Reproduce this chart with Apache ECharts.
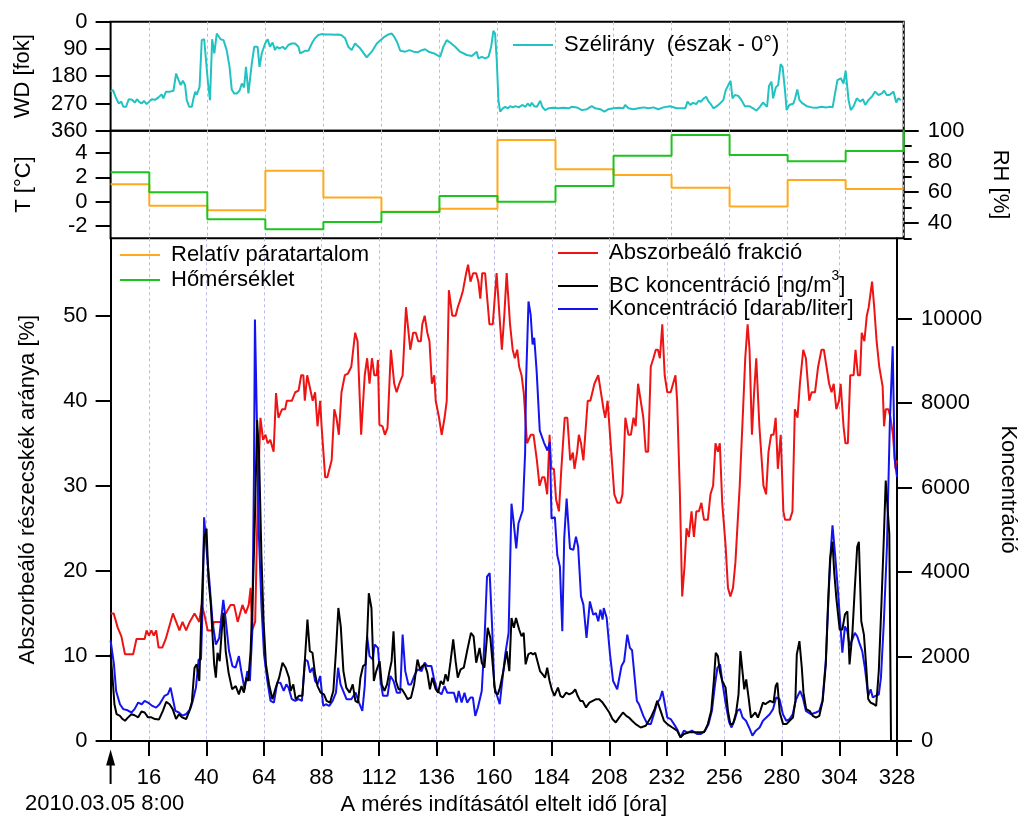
<!DOCTYPE html>
<html>
<head>
<meta charset="utf-8">
<script src="https://cdn.jsdelivr.net/npm/echarts@6.0.0/dist/echarts.min.js"></script>
<style>
  html, body { margin: 0; padding: 0; background: #fff; }
  #chart { width: 1027px; height: 821px; }
</style>
</head>
<body>
<div id="chart"></div>
<script>
// ---- Measurement data (hours since 2010.03.05 8:00) ----

// Wind direction [degrees], [hour, value]
const windDirection = [
  [0,231],[1,226],[1.6,220],[2.3,253],[3.4,270],[4.4,264],[5.3,281],[6.4,281],[7.5,256],[8.9,258],
  [10,267],[11,256],[11.8,265],[12.8,270],[13.8,262],[14.9,272],[16,264],[17,256],[18.4,258],[19.8,250],
  [21.1,240],[21.8,253],[22.9,231],[24.6,231],[26,228],[27.1,171],[28.1,193],[29,209],[29.9,195],[30.8,209],
  [31.5,259],[32.5,281],[33.6,281],[34.3,253],[35,231],[35.6,242],[36.8,215],[37.7,61],[38.7,58],[39.5,61],
  [40.3,204],[41.1,259],[42,58],[42.9,105],[43.9,39],[44.6,39],[45.5,58],[46.7,61],[48,94],[49.2,149],
  [50.1,224],[51.1,237],[52.2,237],[53.3,228],[54.3,204],[55.2,217],[56,149],[57,237],[57.7,240],[58.4,138],
  [59.4,83],[60.8,83],[61.6,149],[62.5,105],[63.9,72],[65,58],[65.9,83],[67,69],[68,94],[68.7,83],
  [69.8,88],[71.2,83],[72.2,91],[73.5,77],[74.9,72],[76.3,72],[77.7,83],[78.4,105],[79,102],[80.4,96],
  [81.8,96],[83.2,72],[84.5,55],[85.9,44],[87.3,41],[88.7,42],[90,42],[91.4,42],[92.8,43],[94.2,42],
  [95.5,45],[97,55],[98.3,83],[99.7,94],[101.1,72],[103.2,88],[105.9,118],[108,99],[110.1,72],[112.9,52],
  [114.9,42],[116.3,39],[117.3,50],[118.4,66],[119.8,96],[121.9,99],[123.6,94],[125.3,99],[127,101],[128.7,94],
  [130.1,91],[131.5,99],[133.8,105],[136.3,116],[137.6,83],[139,61],[140.4,69],[142.5,83],[144.5,99],[147.3,110],
  [149.4,113],[151.4,99],[152.1,121],[153.5,116],[154.9,121],[156.3,116],[157.4,83],[158.3,30],[159,39],[159.7,127],
  [160.4,259],[161.1,297],[162.2,286],[163.2,281],[164.3,286],[165.3,279],[166.4,283],[167.4,279],[168.8,283],[170.2,275],
  [171.6,281],[172.5,270],[173.4,279],[174.2,268],[175.2,279],[176.3,281],[177.7,261],[178.5,281],[179.7,292],[181.1,286],
  [183.2,284],[185.2,286],[187.3,284],[189.4,286],[190.7,281],[192.8,283],[194.9,292],[197,289],[199,279],[200.4,286],
  [202.5,289],[204.2,297],[205.9,289],[208,286],[210.1,284],[212.1,286],[212.8,275],[214.2,286],[216.2,289],[218.3,286],
  [220.4,283],[222.4,286],[224.5,283],[226.5,289],[228.6,283],[231.4,279],[234.1,286],[235.6,286],[237.7,286],[238.6,264],
  [239.7,275],[240.8,268],[242.2,272],[243.2,261],[244.1,265],[245.2,254],[246.3,248],[247.3,264],[248.2,272],[249.3,286],
  [250.7,279],[252,270],[253.4,259],[254.4,226],[255.5,209],[256.4,195],[257.2,253],[258.2,242],[259.6,245],[260.9,259],
  [262.3,279],[264.1,279],[265.7,286],[267.1,294],[268.5,281],[269.8,267],[271.5,281],[272.3,212],[273.3,198],[274,253],
  [275.1,217],[276.1,209],[277.1,140],[277.9,149],[278.9,226],[279.6,292],[280.7,275],[282.4,270],[283.1,253],[284,224],
  [284.9,259],[286.2,270],[287.9,279],[290,283],[292,284],[294.1,281],[296.1,283],[297.5,281],[298.6,283],[299.6,237],
  [300.6,193],[302,187],[303.1,204],[304,162],[305.2,259],[306.1,292],[307.3,279],[308.6,253],[310,264],[311.1,256],
  [312.1,275],[313.4,259],[314.8,248],[316.2,231],[317.6,242],[319,237],[319.9,228],[321,242],[322.1,242],[323.8,231],
  [324.9,267],[325.8,253],[326.8,259]
];

// Daily means (step starts), relative humidity [%] and temperature [°C]
const dayStarts = [0, 16, 40, 64, 88, 112, 136, 160, 184, 208, 232, 256, 280, 304, 328];
const humidityDaily = [65.1, 51.1, 48.3, 73.9, 56.6, 47.2, 49.2, 93.9, 75.0, 71.1, 62.9, 50.7, 67.9, 62.0, 62.0];
const temperatureDaily = [2.41, 0.77, -1.44, -2.26, -1.66, -0.84, 0.47, 0.0, 1.29, 3.77, 5.47, 3.83, 3.31, 4.16, 6.4];

// Absorbing fraction [%]
const absorbingFraction = [
  [0,15],[1.3,15],[3,13.3],[4.5,12.3],[6,10.2],[9.4,10.2],[10.8,12],[14.2,12],[15,13],[16,12.4],
  [17,13],[18,12.4],[19,13],[20,11],[21.6,11],[23,12],[26,15],[28.7,13],[30,14],[31.5,13],
  [33,14],[35,15],[37,14],[38,16],[39,15],[40.5,13],[42.5,13],[43,14],[46,14],[46.5,15],
  [48,15],[50,16],[51.5,16],[53,14],[54,15],[55,16],[56.3,15],[57.6,16],[58.4,18],[59,13],
  [60.3,14],[61.5,30],[62.5,38],[63.6,35.4],[64.6,36],[65.5,35],[66.6,35.4],[68,34],[69,40.9],[70,38],
  [71.5,39],[72.8,39],[73.5,40],[75.6,40],[77,41],[78.4,41.2],[79.5,43],[80.4,43],[81,40],[82,43],
  [83,41.7],[84.3,40],[85.3,41],[86.3,37],[87.4,40],[88,37],[89.5,31],[90.4,31],[92.2,33],[93.3,39],
  [94.2,38],[95.2,36],[96.3,41],[97.7,43],[99,43.2],[100.4,44],[101,44],[102,48],[103,47],[104.5,36],
  [106,43],[107,45],[108,42],[109,45],[110,43],[111,43],[111.5,44.8],[112.1,37.2],[113.4,37],[114.4,36],
  [115.5,36.8],[116.9,46],[118.3,42],[119.3,41],[120.4,42],[121.8,43],[123.2,51],[125,46],[126.2,48],[127.3,48],
  [128.3,47],[129.4,47],[130,49],[131,50],[132.1,48],[133,47],[134,42],[135,43],[135.6,40],[137,38],
  [138.1,36],[139.3,38],[140.2,40],[141.1,53],[142.5,50],[143.9,50],[144.8,51],[146,52],[147,53],[148.3,55],
  [149.1,56],[150.1,54],[151.2,55],[152.5,55],[153.4,54],[154.2,52],[155,55],[156.2,55],[158,49],[159.4,49],
  [161,55],[162.2,50],[163.2,46],[164.2,50],[165.2,55],[166.6,49],[167.7,46],[168.6,45],[169.6,46],[170.4,44],
  [171.4,43],[172.3,41],[173.7,35],[175.2,36],[176.4,36],[177.8,33],[178.9,30],[180,31],[181,31],[182.1,29],
  [183.1,36],[183.8,32],[184.9,32],[185.8,28.4],[187,27],[188,32],[189.4,38],[190.5,38],[191.7,33],[192.8,33.9],
  [193.5,32],[194.6,34],[195.3,36],[196.2,35],[197.2,33],[199,40],[200.1,40],[201.8,42],[203.4,43],[204.5,41],
  [205.6,39],[206.3,38],[207.3,40],[208.3,36],[210.1,29],[211.4,28],[212.6,28],[213.5,29],[214.7,38],[216,36],
  [217,36],[218.1,38],[219,37],[220,42],[221.1,40],[222.2,38],[223.2,34],[224.2,34],[225.3,44],[226.4,45],
  [227.4,46],[228.3,46],[229.1,45],[230.1,49],[231.1,43],[232.2,41],[233.6,41],[234.6,42],[235.6,43],[236.3,40],
  [237.4,29.6],[238.4,17],[239.4,20.6],[240.2,25],[241.2,24],[242.3,27],[243.3,24],[244.3,27],[245.4,27],[246.4,28],
  [247.5,26],[249.1,26],[250.2,29],[251.3,30],[252.3,35],[253.3,34],[254.1,35],[255.1,28],[256.5,23],[257.5,18],
  [258.5,17],[259.6,18],[260.6,21],[262.4,30],[263.8,39],[264.7,45],[265.7,49],[266.5,46],[267.5,36],[268.4,41],
  [269.3,45],[270.6,37],[272.3,30],[273.4,29],[274.4,34],[275.5,36],[276.5,36],[277.4,38],[278.3,32],[279.5,36],
  [280.6,27],[281.3,26],[283.3,26],[284.4,27],[285.4,39],[286.5,38],[287.5,42],[288.9,46],[290,45],[291.4,40],
  [292.4,41],[293.8,41],[295.1,44],[296.5,46],[297.5,46],[298.6,44],[299.7,42],[300.7,41],[301.6,42],[302.7,39],
  [303.8,40],[304.5,42],[305.7,37],[306.5,35],[307.5,35],[308.5,43],[309.9,43],[310.7,46],[311.7,43],[312.6,43],
  [313.3,48],[314.4,47],[315.4,50],[316.2,51],[317.6,54],[318.5,51],[319.5,47],[320.6,44],[322,41.7],[322.6,37],
  [323.3,39],[324.4,39],[325.3,38],[326.3,36],[327.4,32],[328,33]
];

// BC concentration [ng/m3]
const bcConcentration = [
  [0,2050],[0.7,1580],[1.6,870],[2.5,635],[3.9,595],[5,520],[6,480],[7.3,560],[8.7,635],[10,610],
  [11.5,560],[12.9,700],[14.2,675],[15.6,560],[17,560],[18.5,520],[20.2,510],[21.8,715],[23.2,925],[24.6,870],
  [25.9,755],[27.3,520],[28.5,635],[29.8,560],[31.5,520],[32.9,715],[33.9,925],[35,1735],[35.9,1815],[37,1420],
  [38,3230],[39,4800],[40,5030],[40.8,3855],[41.8,3230],[43.2,1815],[43.9,1500],[44.6,2090],[45.5,1890],[46.4,2640],
  [47.1,3030],[48,2130],[49.2,1620],[50.7,1225],[52.2,1300],[53.5,1105],[54.6,1300],[55.6,1145],[56.6,1500],[57.4,1420],
  [58.4,2130],[59.4,3700],[60.2,5270],[61.1,7600],[61.9,6840],[62.9,4405],[63.8,2835],[64.8,1815],[66.1,1340],[67.5,990],
  [68.9,1265],[70.3,1500],[71.7,1855],[73,1735],[74.4,1500],[75.1,1185],[76.2,1340],[77.2,990],[78.6,1070],[80,1070],
  [81,1890],[82.1,2875],[83.1,2130],[84.2,2090],[85.2,1620],[86.3,1300],[87.6,1145],[89,1105],[90.1,950],[91.5,910],
  [92.9,1185],[94,2130],[95,3150],[96,2715],[97.1,1655],[98.3,1265],[99.7,1145],[101,1340],[102.1,950],[103.2,910],
  [104.2,1500],[105.3,1775],[106.3,1815],[107,2480],[107.7,3500],[108.8,3150],[109.8,1420],[110.8,1655],[112.2,1890],[113.1,1340],
  [114.2,1185],[115.3,1340],[116.2,1620],[117.2,1890],[118,2600],[119,1420],[120.1,1225],[121.5,1225],[122.8,1105],[123.9,990],
  [125.3,1030],[126.6,1340],[128,1930],[129.1,1695],[130,1775],[131,1815],[132.1,1620],[133.2,1225],[134.2,1500],[135.6,1225],
  [136.6,1145],[137.7,1420],[138.8,1340],[139.7,1580],[140.7,1420],[141.8,1890],[142.9,2405],[143.9,1890],[144.8,1500],[146,1695],
  [147.3,1735],[148.7,2130],[150.3,2560],[151.4,2480],[152.5,1855],[153.9,2205],[154.8,1855],[155.9,1735],[157.3,2680],[158.4,2440],
  [159.5,1735],[160.4,1145],[161.5,1105],[162.4,1265],[163.8,1655],[165.2,2130],[166.3,1655],[167.2,2915],[168.2,2680],[169.1,2915],
  [170.4,2640],[171.4,2480],[172.3,2560],[173.1,1815],[174.2,2050],[175.3,2090],[176.2,2050],[177.1,2090],[178.2,1855],[179.1,1655],
  [180.2,1580],[181.2,1500],[182.1,1735],[183.1,1420],[184,1225],[185.1,1070],[186.6,1265],[187.6,1070],[188.6,1030],[190,1145],
  [191.3,1105],[192.7,1145],[193.8,1225],[194.8,1070],[195.9,950],[196.9,950],[198.3,795],[199.7,910],[201.1,950],[202.5,990],
  [203.8,990],[205.2,910],[206.6,795],[208,675],[209.3,520],[210.7,440],[212.1,555],[213.7,675],[215.1,595],[216.2,555],
  [217.5,480],[219,400],[221.1,320],[223.2,360],[225.3,555],[226.9,755],[228,950],[229.4,715],[230.8,480],[232.2,400],
  [234.3,320],[236.3,245],[237.7,85],[239.1,165],[241.2,205],[243.3,205],[245.4,205],[247.5,205],[249.1,400],[250.5,715],
  [251.6,1420],[252.4,2090],[253.3,2010],[254.1,1655],[255.1,1420],[256.5,1265],[257.5,715],[258.5,400],[259.6,400],[260.9,675],
  [261.9,1105],[262.7,2130],[263.4,2130],[264.3,1225],[265.1,1460],[266.1,1030],[267.1,555],[267.9,555],[268.9,675],[270,555],
  [271,715],[272.1,910],[273.1,870],[274,910],[275.1,950],[276.5,910],[277.4,1305],[278.1,1380],[279.1,675],[280.5,400],
  [281.9,400],[283.2,480],[284.6,555],[285.6,950],[286.2,2050],[287.3,2365],[288.3,1735],[289,1145],[290.1,755],[291.5,715],
  [292.9,595],[294.2,555],[295.6,595],[297,950],[298.3,1815],[299.3,3345],[300.1,4325],[301.1,4720],[301.8,4010],[302.7,3385],
  [304.1,2640],[305.2,2640],[306.3,3000],[307.3,3070],[308.2,1815],[309.4,2560],[310.4,3620],[311.4,4600],[312.1,4720],[313.1,2835],
  [314.2,2520],[315.2,1735],[316,990],[317,910],[318.4,870],[319.3,830],[320.4,1655],[321.5,3230],[322.5,4800],[323.3,6170],
  [324.8,4900],[325.5,0]
];

// Particle number concentration [darab/liter]
const particleCount = [
  [0,2380],[0.7,2360],[1.4,1815],[2.3,1185],[3.9,870],[5.3,755],[6.7,735],[8.7,675],[10,755],[11.5,910],
  [13,870],[14.2,950],[15.6,910],[17.4,830],[19,790],[20.4,870],[22.5,1070],[23.9,1110],[25,1265],[26,990],
  [27,715],[28.5,675],[30,600],[31.6,640],[33.2,755],[34.3,950],[35.6,1265],[36.7,1930],[37.7,1930],[38.4,3230],
  [39,5300],[40.2,4405],[41.1,3855],[42.5,2835],[43.9,2285],[45.3,2440],[47,3345],[48,2875],[49.4,2130],[50.8,1775],
  [52.1,1735],[53.5,2010],[54.5,1655],[55.9,1225],[57,1655],[58.1,1420],[59.1,2600],[59.8,6370],[60.2,9980],[60.9,7940],
  [61.9,4800],[62.9,3230],[64,2050],[65.4,1420],[66.7,950],[68.1,910],[69.5,1380],[70.8,1380],[72.2,1185],[73.3,1340],
  [74.2,1265],[75.6,990],[77,950],[78.4,990],[79.8,950],[81.1,1930],[82.2,1890],[83.2,1620],[84.3,1735],[85.3,1420],
  [86.3,1340],[87.4,1540],[88.7,830],[89.8,870],[91.2,830],[92.6,950],[94,1145],[94.9,1735],[95.9,1340],[97,1185],
  [98.4,990],[100.4,990],[102.2,1145],[103.6,910],[105,715],[106,1300],[107,2480],[108,2010],[109.4,1930],[110.1,2285],
  [111.5,2205],[112.6,1420],[113.6,1070],[115.5,1070],[116.7,1540],[118,1420],[119.4,1145],[120.8,1145],[121.8,2520],[122.9,1655],
  [124.2,1340],[125.3,1340],[126.6,1540],[128,1695],[129.7,1655],[131,1855],[132.1,1775],[133.8,1775],[134.8,1500],[136.3,1185],
  [138,1105],[139.3,1300],[140.4,1145],[141.8,1145],[143.2,1145],[144.3,910],[145.2,1185],[146.4,910],[147.6,1145],[148.7,910],
  [150.1,1030],[151.1,1030],[152.1,595],[153.2,795],[154.8,1185],[155.9,2325],[157,3895],[158.1,3975],[159.1,2755],[160,1300],
  [161.2,1070],[162.3,870],[163.2,1340],[164.6,2050],[166,2560],[167.2,5620],[168.1,5190],[169.2,4560],[170.1,5150],[171.9,5465],
  [172.9,6840],[173.3,8530],[174.3,10410],[175.2,10100],[176,9390],[176.7,9550],[177.7,8760],[179,7350],[180.7,7075],[182.2,6880],
  [183.2,7075],[183.9,5270],[185.3,5300],[186.3,4405],[187.4,4130],[188.4,2600],[189.2,4800],[190.2,5740],[191.6,4560],[193,4525],
  [194.1,4840],[195,4600],[196.2,3425],[197.2,3230],[198.5,2440],[199.9,3305],[201.3,2990],[202.4,3030],[203.4,2835],[204.3,3110],
  [205.2,2875],[205.7,3150],[206.9,2920],[208.3,2050],[209.6,1420],[211.3,1225],[213.1,1775],[214.2,1890],[215.5,2520],[216.6,2205],
  [217.5,2150],[218.5,1550],[219.5,950],[220.4,870],[222.2,595],[223.9,400],[225.3,400],[226.6,635],[228,910],[229.1,990],
  [230.1,1185],[230.8,990],[232.2,555],[233.6,520],[235,400],[236.3,280],[237.7,85],[239.1,245],[240.7,200],[242.5,245],
  [244.6,165],[246.2,165],[248,245],[249.4,400],[250.8,715],[252.1,1340],[253.1,1735],[254.2,1815],[255.3,1340],[256.6,870],
  [258,440],[259,320],[260.4,520],[261.4,715],[262.5,755],[263.6,555],[265,480],[266.3,320],[267.7,125],[269.1,245],
  [270.7,320],[272.1,480],[273.5,555],[274.9,635],[276.3,755],[277.6,1030],[279,990],[280.4,635],[281.8,480],[283.2,520],
  [284.5,635],[285.9,990],[287.6,1185],[288.7,1030],[290,715],[292.1,635],[294.2,675],[295.6,715],[296.9,950],[298.3,1890],
  [299.7,3740],[300.4,4525],[301.1,5110],[302.2,4405],[303.5,3465],[305.2,2090],[306.3,2715],[307.3,2600],[308.2,2245],[309.4,2405],
  [310.4,2560],[311.4,2480],[312.3,2325],[313.5,2130],[314.6,1735],[316,1070],[317,1225],[317.9,1030],[319,1070],[320.4,1100],
  [321.3,1500],[322.5,2800],[323.8,4600],[325,7500],[326.2,9350],[327,6700],[328,6250]
];

// Axis tick values
const hourTicks = [16, 40, 64, 88, 112, 136, 160, 184, 208, 232, 256, 280, 304, 328];
const wdTicks = [0, 90, 180, 270, 360];
const tempTicks = [-2, 0, 2, 4];
const rhTicks = [40, 60, 80, 100];
const rhMinorTicks = [30, 50, 70, 90];
const fractionTicks = [0, 10, 20, 30, 40, 50];
const concTicks = [0, 2000, 4000, 6000, 8000, 10000];

// ---- Styling ----
const FONT = '"Liberation Sans", Arial, sans-serif';
const FS = 22;
const C = {
  wd: '#22C2C2', rh: '#FFAA1E', temp: '#1EC41E',
  frac: '#EE1414', bc: '#000000', count: '#1414EE'
};
const GRID_LEFT = 110.6, GRID_RIGHT = 123.3;
const txt = { fontSize: FS, fontFamily: FONT, color: '#000' };
const blackLine = { color: '#000', width: 2 };
const plainNumber = v => String(v);

function hourAxis(gridIndex, withLabels) {
  return {
    type: 'value', gridIndex, min: 0, max: 328,
    axisLine: { show: withLabels, onZero: false, lineStyle: blackLine },
    axisTick: { show: withLabels, customValues: hourTicks, length: 15, lineStyle: blackLine },
    axisLabel: Object.assign({ show: withLabels, customValues: hourTicks, margin: 26, formatter: plainNumber }, txt),
    splitLine: { show: true, lineStyle: { color: '#babae8', width: 1, type: [3, 3] } },
    name: withLabels ? 'A mérés indításától eltelt idő [óra]' : '',
    nameLocation: 'middle', nameGap: 53, nameTextStyle: txt
  };
}

function valueAxis(o) {
  const ticks = o.ticks;
  return {
    type: 'value', gridIndex: o.grid, min: o.min, max: o.max, inverse: !!o.inverse,
    position: o.right ? 'right' : 'left',
    axisLine: { show: !!o.line, onZero: false, lineStyle: blackLine },
    axisTick: { show: true, customValues: ticks, length: o.tickLen || 15, lineStyle: blackLine },
    axisLabel: Object.assign({ show: o.labels !== false, customValues: ticks, margin: o.right ? 24 : 23,
                               formatter: plainNumber }, txt),
    splitLine: { show: false },
    name: o.name || '', nameLocation: 'middle', nameGap: o.nameGap || 0,
    nameRotate: o.right ? -90 : 90, nameTextStyle: txt
  };
}

function legendBox(names, left, top, extra) {
  return Object.assign({
    data: names, left, top, orient: 'vertical', padding: 0, itemGap: 3,
    itemWidth: 40, itemHeight: 2, icon: 'rect', selectedMode: false,
    textStyle: Object.assign({ padding: [0, 0, 0, 6] }, txt)
  }, extra || {});
}

function lineSeries(name, data, color, xi, yi, extra) {
  return Object.assign({
    type: 'line', name, data, xAxisIndex: xi, yAxisIndex: yi,
    showSymbol: false, symbol: 'none', color,
    lineStyle: { color, width: 2 }, z: 3
  }, extra || {});
}

const zipSteps = (xs, ys) => xs.map((x, i) => [x, ys[i]]);

const chart = echarts.init(document.getElementById('chart'), null, { renderer: 'canvas' });

chart.setOption({
  animation: false,
  backgroundColor: '#fff',
  textStyle: { fontFamily: FONT },
  grid: [
    { left: GRID_LEFT, right: GRID_RIGHT, top: 21.7, height: 109, show: true, borderColor: '#000', borderWidth: 2 },
    { left: GRID_LEFT, right: GRID_RIGHT, top: 130.7, height: 107.6, show: true, borderColor: '#000', borderWidth: 2 },
    { left: GRID_LEFT, right: GRID_RIGHT, top: 238.3, height: 505.4 }
  ],
  xAxis: [hourAxis(0, false), hourAxis(1, false), hourAxis(2, true)],
  yAxis: [
    valueAxis({ grid: 0, min: 0, max: 360, inverse: true, ticks: wdTicks, name: 'WD [fok]', nameGap: 77 }),
    valueAxis({ grid: 1, min: -3, max: 5.82, ticks: tempTicks, name: 'T [°C]', nameGap: 76 }),
    valueAxis({ grid: 1, min: 30, max: 100, right: true, ticks: rhTicks, name: 'RH [%]', nameGap: 85 }),
    valueAxis({ grid: 1, min: 30, max: 100, right: true, ticks: rhMinorTicks, tickLen: 8, labels: false }),
    valueAxis({ grid: 2, min: 0, max: 59.1, ticks: fractionTicks, line: true,
                name: 'Abszorbeáló részecskék aránya [%]', nameGap: 72 }),
    valueAxis({ grid: 2, min: 0, max: 11906, right: true, ticks: concTicks, line: true,
                name: 'Koncentráció', nameGap: 100 })
  ],
  legend: [
    legendBox(['Szélirány  (észak - 0°)'], 513, 34),
    legendBox(['Relatív páratartalom', 'Hőmérséklet'], 120, 244),
    legendBox(['Abszorbeáló frakció'], 558, 242),
    legendBox(['BC koncentráció [ng/m3]'], 558, 269, {
      formatter: () => '{a|BC koncentráció [ng/m}{s|3}{a|]}',
      textStyle: {
        padding: [0, 0, 0, 6], fontFamily: FONT, color: '#000',
        rich: {
          a: { fontSize: FS, fontFamily: FONT, color: '#000' },
          s: { fontSize: 14, fontFamily: FONT, color: '#000', padding: [0, 0, 20, 0] }
        }
      }
    }),
    legendBox(['Koncentráció [darab/liter]'], 558, 298)
  ],
  series: [
    lineSeries('Szélirány  (észak - 0°)', windDirection, C.wd, 0, 0),
    lineSeries('Relatív páratartalom', zipSteps(dayStarts, humidityDaily), C.rh, 1, 2, { step: 'end' }),
    lineSeries('Hőmérséklet', zipSteps(dayStarts, temperatureDaily), C.temp, 1, 1, { step: 'end' }),
    lineSeries('Abszorbeáló frakció', absorbingFraction, C.frac, 2, 4),
    lineSeries('Koncentráció [darab/liter]', particleCount, C.count, 2, 5),
    lineSeries('BC koncentráció [ng/m3]', bcConcentration, C.bc, 2, 5)
  ]
});

// Start-of-measurement marker below the time axis
const x0 = chart.convertToPixel({ xAxisIndex: 2 }, 0);
const yBase = chart.convertToPixel({ yAxisIndex: 4 }, 0);
chart.setOption({
  graphic: [
    { type: 'line', shape: { x1: x0, y1: yBase + 43, x2: x0, y2: yBase + 22 },
      style: { stroke: '#000', lineWidth: 2 } },
    { type: 'polygon', shape: { points: [[x0, yBase + 8.5], [x0 - 4.5, yBase + 24.5], [x0 + 4.5, yBase + 24.5]] },
      style: { fill: '#000' } },
    { type: 'text', x: x0 - 6, y: yBase + 63,
      style: { text: '2010.03.05 8:00', fontSize: FS, fontFamily: FONT, fill: '#000',
               align: 'center', verticalAlign: 'middle' } }
  ]
});
</script>
</body>
</html>
